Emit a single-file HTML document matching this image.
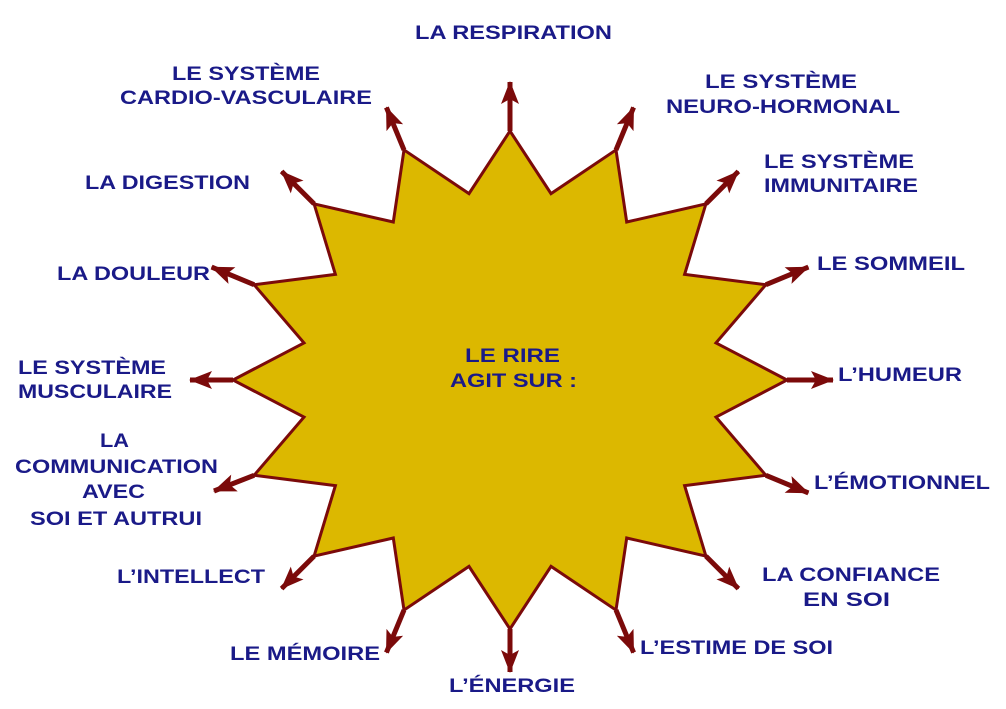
<!DOCTYPE html>
<html><head><meta charset="utf-8"><style>
html,body{margin:0;padding:0;background:#fff;}
svg{display:block;}
text{font-family:"Liberation Sans",Arial,sans-serif;font-weight:bold;font-size:19px;fill:#1a1a88;}
</style></head><body>
<svg width="1006" height="709" viewBox="0 0 1006 709" xmlns="http://www.w3.org/2000/svg">
<defs>
<marker id="ah" markerUnits="userSpaceOnUse" markerWidth="24" markerHeight="22" viewBox="0 0 24 22" refX="22" refY="11" orient="auto">
<path d="M0,2 L23,11 L0,20 L5,11 Z" fill="#7b0a0a"/>
</marker>
</defs>
<polygon fill="#dcb800" stroke="#7b0a0a" stroke-width="3" stroke-linejoin="miter"
points="787,380 716,342.9 765.9,284.7 684.6,274.4 705.9,203.9 626.7,222 616,149.9 551,193.6 510,131 469,193.6 404,149.9 393.3,222 314.1,203.9 335.4,274.4 254.1,284.7 304,342.9 233,380 304,417.1 254.1,475.3 335.4,485.6 314.1,556.1 393.3,538 404,610.1 469,566.4 510,629 551,566.4 616,610.1 626.7,538 705.9,556.1 684.6,485.6 765.9,475.3 716,417.1"/>
<g stroke="#7b0a0a" stroke-width="5" marker-end="url(#ah)">
<line x1="787" y1="380" x2="833" y2="380"/>
<line x1="765.9" y1="284.7" x2="808.4" y2="267.1"/>
<line x1="705.9" y1="203.9" x2="738.4" y2="171.4"/>
<line x1="616" y1="149.9" x2="633.6" y2="107.4"/>
<line x1="510" y1="131" x2="510" y2="82"/>
<line x1="404" y1="149.9" x2="386.4" y2="107.4"/>
<line x1="314.1" y1="203.9" x2="281.6" y2="171.4"/>
<line x1="254.1" y1="284.7" x2="211.6" y2="267.1"/>
<line x1="233" y1="380" x2="190" y2="380"/>
<line x1="254.1" y1="475.3" x2="214" y2="491"/>
<line x1="314.1" y1="556.1" x2="281.6" y2="588.6"/>
<line x1="404" y1="610.1" x2="386.4" y2="652.6"/>
<line x1="510" y1="629" x2="510" y2="672"/>
<line x1="616" y1="610.1" x2="633.6" y2="652.6"/>
<line x1="705.9" y1="556.1" x2="738.4" y2="588.6"/>
<line x1="765.9" y1="475.3" x2="808.4" y2="492.9"/>
</g>
<text x="415" y="39" textLength="197" lengthAdjust="spacingAndGlyphs">LA RESPIRATION</text>
<text x="172" y="80" textLength="148" lengthAdjust="spacingAndGlyphs">LE SYSTÈME</text>
<text x="120" y="104" textLength="252" lengthAdjust="spacingAndGlyphs">CARDIO-VASCULAIRE</text>
<text x="705" y="88" textLength="152" lengthAdjust="spacingAndGlyphs">LE SYSTÈME</text>
<text x="666" y="113" textLength="234" lengthAdjust="spacingAndGlyphs">NEURO-HORMONAL</text>
<text x="764" y="168" textLength="150" lengthAdjust="spacingAndGlyphs">LE SYSTÈME</text>
<text x="764" y="192" textLength="154" lengthAdjust="spacingAndGlyphs">IMMUNITAIRE</text>
<text x="817" y="270" textLength="148" lengthAdjust="spacingAndGlyphs">LE SOMMEIL</text>
<text x="838" y="381" textLength="124" lengthAdjust="spacingAndGlyphs">L’HUMEUR</text>
<text x="814" y="489" textLength="176" lengthAdjust="spacingAndGlyphs">L’ÉMOTIONNEL</text>
<text x="762" y="581" textLength="178" lengthAdjust="spacingAndGlyphs">LA CONFIANCE</text>
<text x="803" y="606" textLength="87" lengthAdjust="spacingAndGlyphs">EN SOI</text>
<text x="640" y="654" textLength="193" lengthAdjust="spacingAndGlyphs">L’ESTIME DE SOI</text>
<text x="449" y="692" textLength="126" lengthAdjust="spacingAndGlyphs">L’ÉNERGIE</text>
<text x="230" y="660" textLength="150" lengthAdjust="spacingAndGlyphs">LE MÉMOIRE</text>
<text x="117" y="583" textLength="148" lengthAdjust="spacingAndGlyphs">L’INTELLECT</text>
<text x="100" y="447" textLength="29" lengthAdjust="spacingAndGlyphs">LA</text>
<text x="15" y="473" textLength="203" lengthAdjust="spacingAndGlyphs">COMMUNICATION</text>
<text x="82" y="498" textLength="63" lengthAdjust="spacingAndGlyphs">AVEC</text>
<text x="30" y="525" textLength="172" lengthAdjust="spacingAndGlyphs">SOI ET AUTRUI</text>
<text x="18" y="374" textLength="148" lengthAdjust="spacingAndGlyphs">LE SYSTÈME</text>
<text x="18" y="398" textLength="154" lengthAdjust="spacingAndGlyphs">MUSCULAIRE</text>
<text x="57" y="280" textLength="153" lengthAdjust="spacingAndGlyphs">LA DOULEUR</text>
<text x="85" y="189" textLength="165" lengthAdjust="spacingAndGlyphs">LA DIGESTION</text>
<text x="465" y="362" textLength="95" lengthAdjust="spacingAndGlyphs">LE RIRE</text>
<text x="450" y="387" textLength="127" lengthAdjust="spacingAndGlyphs">AGIT SUR :</text>
</svg>
</body></html>
